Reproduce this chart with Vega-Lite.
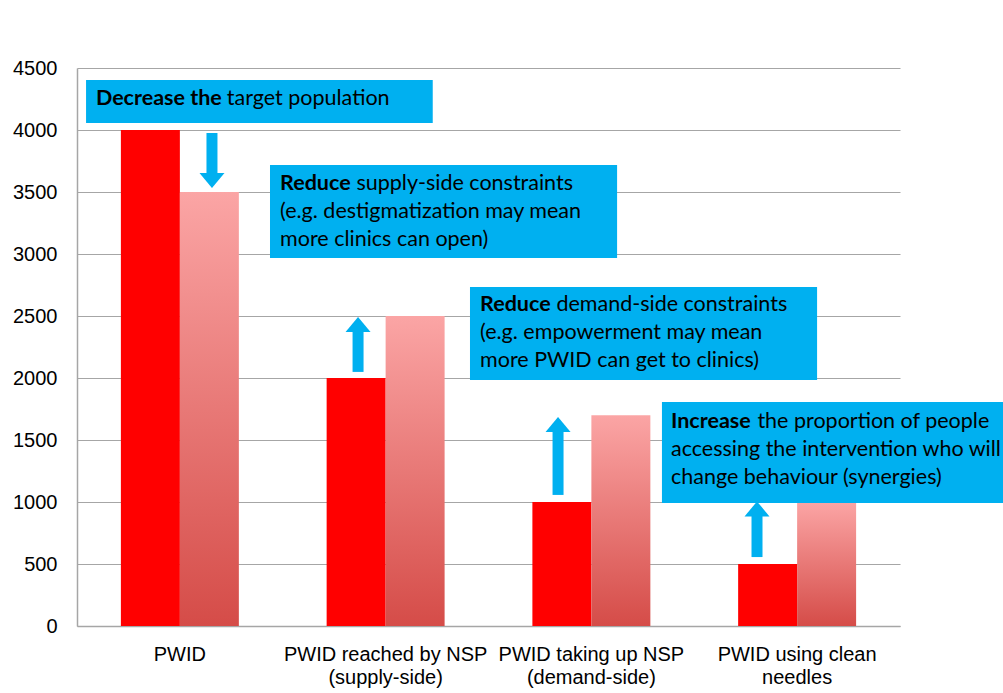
{
  "$schema": "https://vega.github.io/schema/vega-lite/v6.json",
  "width": 823,
  "height": 558,
  "autosize": "none",
  "padding": {"left": 77, "top": 68, "right": 103, "bottom": 67},
  "background": "white",
  "config": {"view": {"stroke": null}, "font": "Liberation Sans"},
  "datasets": {
    "bars": [
      {"category": "PWID", "series": "Current", "value": 4000},
      {"category": "PWID", "series": "Potential", "value": 3500},
      {"category": "PWID reached by NSP (supply-side)", "series": "Current", "value": 2000},
      {"category": "PWID reached by NSP (supply-side)", "series": "Potential", "value": 2500},
      {"category": "PWID taking up NSP (demand-side)", "series": "Current", "value": 1000},
      {"category": "PWID taking up NSP (demand-side)", "series": "Potential", "value": 1700},
      {"category": "PWID using clean needles", "series": "Current", "value": 500},
      {"category": "PWID using clean needles", "series": "Potential", "value": 1000}
    ],
    "boxes": [
      {"box": 1, "x0": 0.044, "x1": 1.729, "y0": 4057, "y1": 4403},
      {"box": 2, "x0": 0.938, "x1": 2.625, "y0": 2968, "y1": 3718},
      {"box": 3, "x0": 1.910, "x1": 3.597, "y0": 1984, "y1": 2734},
      {"box": 4, "x0": 2.843, "x1": 4.6, "y0": 992, "y1": 1807}
    ],
    "arrows": [
      {"arrow": 1, "dir": "down", "ax": 0.656, "shaftFrom": 3976, "shaftTo": 3653, "head": 3593},
      {"arrow": 2, "dir": "up", "ax": 1.366, "shaftFrom": 2049, "shaftTo": 2379, "head": 2432},
      {"arrow": 3, "dir": "up", "ax": 2.338, "shaftFrom": 1057, "shaftTo": 1565, "head": 1625},
      {"arrow": 4, "dir": "up", "ax": 3.305, "shaftFrom": 556, "shaftTo": 895, "head": 944}
    ],
    "notes": [
      {"tx": 0.092, "ty": 4250, "text": "Decrease the", "emphasis": true},
      {"tx": 0.728, "ty": 4250, "text": "target population", "emphasis": false},
      {"tx": 0.987, "ty": 3565, "text": "Reduce", "emphasis": true},
      {"tx": 1.358, "ty": 3565, "text": "supply-side constraints", "emphasis": false},
      {"tx": 0.987, "ty": 3339, "text": "(e.g. destigmatization may mean", "emphasis": false},
      {"tx": 0.987, "ty": 3113, "text": "more clinics can open)", "emphasis": false},
      {"tx": 1.959, "ty": 2589, "text": "Reduce", "emphasis": true},
      {"tx": 2.330, "ty": 2589, "text": "demand-side constraints", "emphasis": false},
      {"tx": 1.959, "ty": 2363, "text": "(e.g. empowerment may mean", "emphasis": false},
      {"tx": 1.959, "ty": 2137, "text": "more PWID can get to clinics)", "emphasis": false},
      {"tx": 2.887, "ty": 1645, "text": "Increase", "emphasis": true},
      {"tx": 3.307, "ty": 1645, "text": "the proportion of people", "emphasis": false},
      {"tx": 2.887, "ty": 1419, "text": "accessing the intervention who will", "emphasis": false},
      {"tx": 2.887, "ty": 1194, "text": "change behaviour (synergies)", "emphasis": false}
    ]
  },
  "layer": [
    {
      "data": {"name": "bars"},
      "mark": {"type": "bar"},
      "encoding": {
        "x": {
          "field": "category",
          "type": "nominal",
          "sort": ["PWID", "PWID reached by NSP (supply-side)", "PWID taking up NSP (demand-side)", "PWID using clean needles"],
          "scale": {"paddingInner": 0, "paddingOuter": 0},
          "axis": {
            "title": null,
            "labelAngle": 0,
            "ticks": false,
            "domainColor": "#A6A6A6",
            "domainWidth": 1.5,
            "labelFont": "Liberation Sans",
            "labelFontSize": 20,
            "labelColor": "#000000",
            "labelPadding": 18,
            "labelLineHeight": 23,
            "labelLimit": 0,
            "labelOverlap": false,
            "labelExpr": "datum.value === 'PWID using clean needles' ? ['PWID using clean', 'needles'] : (indexof(datum.value, ' (') > 0 ? [slice(datum.value, 0, indexof(datum.value, ' (')), slice(datum.value, indexof(datum.value, ' (') + 1)] : datum.value)"
          }
        },
        "xOffset": {
          "field": "series",
          "type": "nominal",
          "scale": {"domain": ["Current", "Potential"], "paddingInner": 0, "paddingOuter": 0.744}
        },
        "y": {
          "field": "value",
          "type": "quantitative",
          "scale": {"domain": [0, 4500], "nice": false},
          "axis": {
            "title": null,
            "format": "d",
            "values": [0, 500, 1000, 1500, 2000, 2500, 3000, 3500, 4000, 4500],
            "ticks": false,
            "labelPadding": 20,
            "labelFont": "Liberation Sans",
            "labelFontSize": 20,
            "labelColor": "#000000",
            "domainColor": "#A6A6A6",
            "domainWidth": 1.5,
            "gridColor": "#A6A6A6",
            "gridWidth": 1.2
          }
        },
        "color": {
          "condition": {"test": "datum.series === 'Current'", "value": "#FF0000"},
          "value": {
            "gradient": "linear",
            "x1": 0, "y1": 0, "x2": 0, "y2": 1,
            "stops": [
              {"offset": 0, "color": "#FBA5A5"},
              {"offset": 1, "color": "#D54C48"}
            ]
          }
        }
      }
    },
    {
      "layer": [
        {
          "data": {"name": "boxes"},
          "mark": {"type": "rect", "color": "#00B0F0"},
          "encoding": {
            "x": {"field": "x0", "type": "quantitative", "scale": {"domain": [0, 4], "nice": false, "zero": false}, "axis": null},
            "x2": {"field": "x1"},
            "y": {"field": "y0", "type": "quantitative", "axis": null},
            "y2": {"field": "y1"}
          }
        },
        {
          "data": {"name": "arrows"},
          "mark": {"type": "rule", "color": "#00B0F0", "strokeWidth": 11, "strokeCap": "butt"},
          "encoding": {
            "x": {"field": "ax", "type": "quantitative", "axis": null},
            "y": {"field": "shaftFrom", "type": "quantitative", "axis": null},
            "y2": {"field": "shaftTo"}
          }
        },
        {
          "data": {"name": "arrows"},
          "mark": {"type": "point", "filled": true, "color": "#00B0F0", "opacity": 1, "size": 625, "strokeWidth": 0},
          "encoding": {
            "x": {"field": "ax", "type": "quantitative", "axis": null},
            "y": {"field": "head", "type": "quantitative", "axis": null},
            "shape": {
              "field": "dir",
              "type": "nominal",
              "scale": {"domain": ["up", "down"], "range": ["M0,-0.6L1,0.6L-1,0.6Z", "M0,0.6L1,-0.6L-1,-0.6Z"]},
              "legend": null
            }
          }
        },
        {
          "data": {"name": "notes"},
          "transform": [{"filter": "datum.emphasis"}],
          "mark": {"type": "text", "align": "left", "baseline": "middle", "font": "Lato", "fontSize": 21.5, "fontWeight": "bold", "color": "#000000"},
          "encoding": {
            "x": {"field": "tx", "type": "quantitative", "axis": null},
            "y": {"field": "ty", "type": "quantitative", "axis": null},
            "text": {"field": "text"}
          }
        },
        {
          "data": {"name": "notes"},
          "transform": [{"filter": "!datum.emphasis"}],
          "mark": {"type": "text", "align": "left", "baseline": "middle", "font": "Lato", "fontSize": 21.5, "color": "#000000"},
          "encoding": {
            "x": {"field": "tx", "type": "quantitative", "axis": null},
            "y": {"field": "ty", "type": "quantitative", "axis": null},
            "text": {"field": "text"}
          }
        }
      ]
    }
  ],
  "resolve": {"scale": {"x": "independent"}, "axis": {"x": "independent", "y": "independent"}}
}
